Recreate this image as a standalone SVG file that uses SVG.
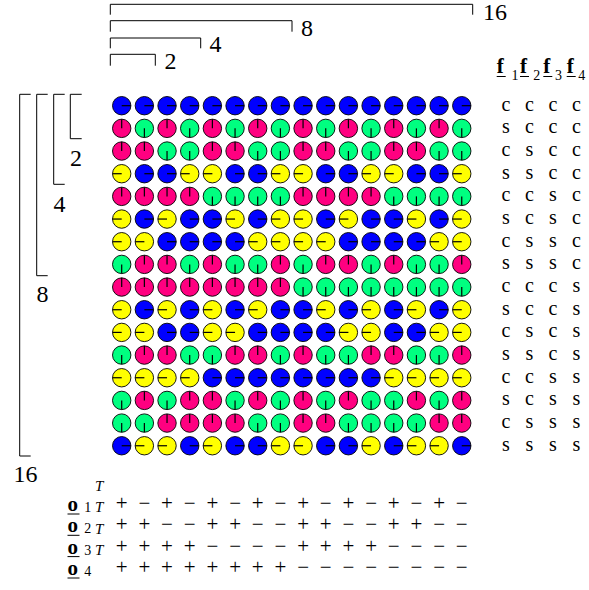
<svg xmlns="http://www.w3.org/2000/svg" xmlns:xlink="http://www.w3.org/1999/xlink" width="589" height="590" viewBox="0 0 589 590">
<style>
text{font-family:'Liberation Serif','Times New Roman',serif;fill:#000}
.br{fill:none;stroke:#000;stroke-width:1}
.num{font-size:24px}
.cs{font-size:20px;text-anchor:middle}
.sg{font-size:21px;text-anchor:middle}
.bf{font-size:21px;font-weight:bold}
.sub{font-size:14px}
.supT{font-size:15px;font-style:italic}
.ul{stroke:#000;stroke-width:1}
.c{stroke:#000;stroke-width:0.9}
.t{stroke:#000;stroke-width:1.2}
.B{fill:#0000ff}.M{fill:#ff0080}.G{fill:#00ff80}.Y{fill:#ffff00}
</style>
<defs>
<g id="B"><circle r="9.2" class="c B"/><line class="t" x1="0" y1="0" x2="9.2" y2="0"/></g>
<g id="M"><circle r="9.2" class="c M"/><line class="t" x1="0" y1="0" x2="0" y2="-9.2"/></g>
<g id="Y"><circle r="9.2" class="c Y"/><line class="t" x1="0" y1="0" x2="-9.2" y2="0"/></g>
<g id="G"><circle r="9.2" class="c G"/><line class="t" x1="0" y1="0" x2="0" y2="9.2"/></g>
</defs>
<g id="top-brackets">
<path class="br" d="M110.3,14.7V4.3H472.7V14.7"/>
<path class="br" d="M110.3,31.7V20.7H292V31.7"/>
<path class="br" d="M110.3,48.3V38H200.7V48.3"/>
<path class="br" d="M110.3,65.7V54.3H155.3V65.7"/>
<text class="num" x="483" y="20">16</text>
<text class="num" x="301" y="35.5">8</text>
<text class="num" x="209.5" y="52">4</text>
<text class="num" x="164.5" y="68.5">2</text>
</g>
<g id="left-brackets">
<path class="br" d="M30.7,94.3H19.7V456H30.7"/>
<path class="br" d="M47.7,94.3H36.7V275.7H47.7"/>
<path class="br" d="M64.7,94.3H53.7V184.3H64.7"/>
<path class="br" d="M81.7,94.3H70.3V138.7H81.7"/>
<text class="num" x="76" y="166" text-anchor="middle">2</text>
<text class="num" x="59.5" y="212" text-anchor="middle">4</text>
<text class="num" x="42.5" y="301.5" text-anchor="middle">8</text>
<text class="num" x="25.5" y="482" text-anchor="middle">16</text>
</g>
<g id="grid">
<g id="row0"><use xlink:href="#B" x="121.7" y="105.7"/><use xlink:href="#B" x="144.37" y="105.7"/><use xlink:href="#B" x="167.04" y="105.7"/><use xlink:href="#B" x="189.71" y="105.7"/><use xlink:href="#B" x="212.38" y="105.7"/><use xlink:href="#B" x="235.05" y="105.7"/><use xlink:href="#B" x="257.72" y="105.7"/><use xlink:href="#B" x="280.39" y="105.7"/><use xlink:href="#B" x="303.06" y="105.7"/><use xlink:href="#B" x="325.73" y="105.7"/><use xlink:href="#B" x="348.4" y="105.7"/><use xlink:href="#B" x="371.07" y="105.7"/><use xlink:href="#B" x="393.74" y="105.7"/><use xlink:href="#B" x="416.41" y="105.7"/><use xlink:href="#B" x="439.08" y="105.7"/><use xlink:href="#B" x="461.75" y="105.7"/></g>
<g id="row1"><use xlink:href="#M" x="121.7" y="128.37"/><use xlink:href="#G" x="144.37" y="128.37"/><use xlink:href="#M" x="167.04" y="128.37"/><use xlink:href="#G" x="189.71" y="128.37"/><use xlink:href="#M" x="212.38" y="128.37"/><use xlink:href="#G" x="235.05" y="128.37"/><use xlink:href="#M" x="257.72" y="128.37"/><use xlink:href="#G" x="280.39" y="128.37"/><use xlink:href="#M" x="303.06" y="128.37"/><use xlink:href="#G" x="325.73" y="128.37"/><use xlink:href="#M" x="348.4" y="128.37"/><use xlink:href="#G" x="371.07" y="128.37"/><use xlink:href="#M" x="393.74" y="128.37"/><use xlink:href="#G" x="416.41" y="128.37"/><use xlink:href="#M" x="439.08" y="128.37"/><use xlink:href="#G" x="461.75" y="128.37"/></g>
<g id="row2"><use xlink:href="#M" x="121.7" y="151.04"/><use xlink:href="#M" x="144.37" y="151.04"/><use xlink:href="#G" x="167.04" y="151.04"/><use xlink:href="#G" x="189.71" y="151.04"/><use xlink:href="#M" x="212.38" y="151.04"/><use xlink:href="#M" x="235.05" y="151.04"/><use xlink:href="#G" x="257.72" y="151.04"/><use xlink:href="#G" x="280.39" y="151.04"/><use xlink:href="#M" x="303.06" y="151.04"/><use xlink:href="#M" x="325.73" y="151.04"/><use xlink:href="#G" x="348.4" y="151.04"/><use xlink:href="#G" x="371.07" y="151.04"/><use xlink:href="#M" x="393.74" y="151.04"/><use xlink:href="#M" x="416.41" y="151.04"/><use xlink:href="#G" x="439.08" y="151.04"/><use xlink:href="#G" x="461.75" y="151.04"/></g>
<g id="row3"><use xlink:href="#Y" x="121.7" y="173.71"/><use xlink:href="#B" x="144.37" y="173.71"/><use xlink:href="#B" x="167.04" y="173.71"/><use xlink:href="#Y" x="189.71" y="173.71"/><use xlink:href="#Y" x="212.38" y="173.71"/><use xlink:href="#B" x="235.05" y="173.71"/><use xlink:href="#B" x="257.72" y="173.71"/><use xlink:href="#Y" x="280.39" y="173.71"/><use xlink:href="#Y" x="303.06" y="173.71"/><use xlink:href="#B" x="325.73" y="173.71"/><use xlink:href="#B" x="348.4" y="173.71"/><use xlink:href="#Y" x="371.07" y="173.71"/><use xlink:href="#Y" x="393.74" y="173.71"/><use xlink:href="#B" x="416.41" y="173.71"/><use xlink:href="#B" x="439.08" y="173.71"/><use xlink:href="#Y" x="461.75" y="173.71"/></g>
<g id="row4"><use xlink:href="#M" x="121.7" y="196.38"/><use xlink:href="#M" x="144.37" y="196.38"/><use xlink:href="#M" x="167.04" y="196.38"/><use xlink:href="#M" x="189.71" y="196.38"/><use xlink:href="#G" x="212.38" y="196.38"/><use xlink:href="#G" x="235.05" y="196.38"/><use xlink:href="#G" x="257.72" y="196.38"/><use xlink:href="#G" x="280.39" y="196.38"/><use xlink:href="#M" x="303.06" y="196.38"/><use xlink:href="#M" x="325.73" y="196.38"/><use xlink:href="#M" x="348.4" y="196.38"/><use xlink:href="#M" x="371.07" y="196.38"/><use xlink:href="#G" x="393.74" y="196.38"/><use xlink:href="#G" x="416.41" y="196.38"/><use xlink:href="#G" x="439.08" y="196.38"/><use xlink:href="#G" x="461.75" y="196.38"/></g>
<g id="row5"><use xlink:href="#Y" x="121.7" y="219.05"/><use xlink:href="#B" x="144.37" y="219.05"/><use xlink:href="#Y" x="167.04" y="219.05"/><use xlink:href="#B" x="189.71" y="219.05"/><use xlink:href="#B" x="212.38" y="219.05"/><use xlink:href="#Y" x="235.05" y="219.05"/><use xlink:href="#B" x="257.72" y="219.05"/><use xlink:href="#Y" x="280.39" y="219.05"/><use xlink:href="#Y" x="303.06" y="219.05"/><use xlink:href="#B" x="325.73" y="219.05"/><use xlink:href="#Y" x="348.4" y="219.05"/><use xlink:href="#B" x="371.07" y="219.05"/><use xlink:href="#B" x="393.74" y="219.05"/><use xlink:href="#Y" x="416.41" y="219.05"/><use xlink:href="#B" x="439.08" y="219.05"/><use xlink:href="#Y" x="461.75" y="219.05"/></g>
<g id="row6"><use xlink:href="#Y" x="121.7" y="241.72"/><use xlink:href="#Y" x="144.37" y="241.72"/><use xlink:href="#B" x="167.04" y="241.72"/><use xlink:href="#B" x="189.71" y="241.72"/><use xlink:href="#B" x="212.38" y="241.72"/><use xlink:href="#B" x="235.05" y="241.72"/><use xlink:href="#Y" x="257.72" y="241.72"/><use xlink:href="#Y" x="280.39" y="241.72"/><use xlink:href="#Y" x="303.06" y="241.72"/><use xlink:href="#Y" x="325.73" y="241.72"/><use xlink:href="#B" x="348.4" y="241.72"/><use xlink:href="#B" x="371.07" y="241.72"/><use xlink:href="#B" x="393.74" y="241.72"/><use xlink:href="#B" x="416.41" y="241.72"/><use xlink:href="#Y" x="439.08" y="241.72"/><use xlink:href="#Y" x="461.75" y="241.72"/></g>
<g id="row7"><use xlink:href="#G" x="121.7" y="264.39"/><use xlink:href="#M" x="144.37" y="264.39"/><use xlink:href="#M" x="167.04" y="264.39"/><use xlink:href="#G" x="189.71" y="264.39"/><use xlink:href="#M" x="212.38" y="264.39"/><use xlink:href="#G" x="235.05" y="264.39"/><use xlink:href="#G" x="257.72" y="264.39"/><use xlink:href="#M" x="280.39" y="264.39"/><use xlink:href="#G" x="303.06" y="264.39"/><use xlink:href="#M" x="325.73" y="264.39"/><use xlink:href="#M" x="348.4" y="264.39"/><use xlink:href="#G" x="371.07" y="264.39"/><use xlink:href="#M" x="393.74" y="264.39"/><use xlink:href="#G" x="416.41" y="264.39"/><use xlink:href="#G" x="439.08" y="264.39"/><use xlink:href="#M" x="461.75" y="264.39"/></g>
<g id="row8"><use xlink:href="#M" x="121.7" y="287.06"/><use xlink:href="#M" x="144.37" y="287.06"/><use xlink:href="#M" x="167.04" y="287.06"/><use xlink:href="#M" x="189.71" y="287.06"/><use xlink:href="#M" x="212.38" y="287.06"/><use xlink:href="#M" x="235.05" y="287.06"/><use xlink:href="#M" x="257.72" y="287.06"/><use xlink:href="#M" x="280.39" y="287.06"/><use xlink:href="#G" x="303.06" y="287.06"/><use xlink:href="#G" x="325.73" y="287.06"/><use xlink:href="#G" x="348.4" y="287.06"/><use xlink:href="#G" x="371.07" y="287.06"/><use xlink:href="#G" x="393.74" y="287.06"/><use xlink:href="#G" x="416.41" y="287.06"/><use xlink:href="#G" x="439.08" y="287.06"/><use xlink:href="#G" x="461.75" y="287.06"/></g>
<g id="row9"><use xlink:href="#Y" x="121.7" y="309.73"/><use xlink:href="#B" x="144.37" y="309.73"/><use xlink:href="#Y" x="167.04" y="309.73"/><use xlink:href="#B" x="189.71" y="309.73"/><use xlink:href="#Y" x="212.38" y="309.73"/><use xlink:href="#B" x="235.05" y="309.73"/><use xlink:href="#Y" x="257.72" y="309.73"/><use xlink:href="#B" x="280.39" y="309.73"/><use xlink:href="#B" x="303.06" y="309.73"/><use xlink:href="#Y" x="325.73" y="309.73"/><use xlink:href="#B" x="348.4" y="309.73"/><use xlink:href="#Y" x="371.07" y="309.73"/><use xlink:href="#B" x="393.74" y="309.73"/><use xlink:href="#Y" x="416.41" y="309.73"/><use xlink:href="#B" x="439.08" y="309.73"/><use xlink:href="#Y" x="461.75" y="309.73"/></g>
<g id="row10"><use xlink:href="#Y" x="121.7" y="332.4"/><use xlink:href="#Y" x="144.37" y="332.4"/><use xlink:href="#B" x="167.04" y="332.4"/><use xlink:href="#B" x="189.71" y="332.4"/><use xlink:href="#Y" x="212.38" y="332.4"/><use xlink:href="#Y" x="235.05" y="332.4"/><use xlink:href="#B" x="257.72" y="332.4"/><use xlink:href="#B" x="280.39" y="332.4"/><use xlink:href="#B" x="303.06" y="332.4"/><use xlink:href="#B" x="325.73" y="332.4"/><use xlink:href="#Y" x="348.4" y="332.4"/><use xlink:href="#Y" x="371.07" y="332.4"/><use xlink:href="#B" x="393.74" y="332.4"/><use xlink:href="#B" x="416.41" y="332.4"/><use xlink:href="#Y" x="439.08" y="332.4"/><use xlink:href="#Y" x="461.75" y="332.4"/></g>
<g id="row11"><use xlink:href="#G" x="121.7" y="355.07"/><use xlink:href="#M" x="144.37" y="355.07"/><use xlink:href="#M" x="167.04" y="355.07"/><use xlink:href="#G" x="189.71" y="355.07"/><use xlink:href="#G" x="212.38" y="355.07"/><use xlink:href="#M" x="235.05" y="355.07"/><use xlink:href="#M" x="257.72" y="355.07"/><use xlink:href="#G" x="280.39" y="355.07"/><use xlink:href="#M" x="303.06" y="355.07"/><use xlink:href="#G" x="325.73" y="355.07"/><use xlink:href="#G" x="348.4" y="355.07"/><use xlink:href="#M" x="371.07" y="355.07"/><use xlink:href="#M" x="393.74" y="355.07"/><use xlink:href="#G" x="416.41" y="355.07"/><use xlink:href="#G" x="439.08" y="355.07"/><use xlink:href="#M" x="461.75" y="355.07"/></g>
<g id="row12"><use xlink:href="#Y" x="121.7" y="377.74"/><use xlink:href="#Y" x="144.37" y="377.74"/><use xlink:href="#Y" x="167.04" y="377.74"/><use xlink:href="#Y" x="189.71" y="377.74"/><use xlink:href="#B" x="212.38" y="377.74"/><use xlink:href="#B" x="235.05" y="377.74"/><use xlink:href="#B" x="257.72" y="377.74"/><use xlink:href="#B" x="280.39" y="377.74"/><use xlink:href="#B" x="303.06" y="377.74"/><use xlink:href="#B" x="325.73" y="377.74"/><use xlink:href="#B" x="348.4" y="377.74"/><use xlink:href="#B" x="371.07" y="377.74"/><use xlink:href="#Y" x="393.74" y="377.74"/><use xlink:href="#Y" x="416.41" y="377.74"/><use xlink:href="#Y" x="439.08" y="377.74"/><use xlink:href="#Y" x="461.75" y="377.74"/></g>
<g id="row13"><use xlink:href="#G" x="121.7" y="400.41"/><use xlink:href="#M" x="144.37" y="400.41"/><use xlink:href="#G" x="167.04" y="400.41"/><use xlink:href="#M" x="189.71" y="400.41"/><use xlink:href="#M" x="212.38" y="400.41"/><use xlink:href="#G" x="235.05" y="400.41"/><use xlink:href="#M" x="257.72" y="400.41"/><use xlink:href="#G" x="280.39" y="400.41"/><use xlink:href="#M" x="303.06" y="400.41"/><use xlink:href="#G" x="325.73" y="400.41"/><use xlink:href="#M" x="348.4" y="400.41"/><use xlink:href="#G" x="371.07" y="400.41"/><use xlink:href="#G" x="393.74" y="400.41"/><use xlink:href="#M" x="416.41" y="400.41"/><use xlink:href="#G" x="439.08" y="400.41"/><use xlink:href="#M" x="461.75" y="400.41"/></g>
<g id="row14"><use xlink:href="#G" x="121.7" y="423.08"/><use xlink:href="#G" x="144.37" y="423.08"/><use xlink:href="#M" x="167.04" y="423.08"/><use xlink:href="#M" x="189.71" y="423.08"/><use xlink:href="#M" x="212.38" y="423.08"/><use xlink:href="#M" x="235.05" y="423.08"/><use xlink:href="#G" x="257.72" y="423.08"/><use xlink:href="#G" x="280.39" y="423.08"/><use xlink:href="#M" x="303.06" y="423.08"/><use xlink:href="#M" x="325.73" y="423.08"/><use xlink:href="#G" x="348.4" y="423.08"/><use xlink:href="#G" x="371.07" y="423.08"/><use xlink:href="#G" x="393.74" y="423.08"/><use xlink:href="#G" x="416.41" y="423.08"/><use xlink:href="#M" x="439.08" y="423.08"/><use xlink:href="#M" x="461.75" y="423.08"/></g>
<g id="row15"><use xlink:href="#B" x="121.7" y="445.75"/><use xlink:href="#Y" x="144.37" y="445.75"/><use xlink:href="#Y" x="167.04" y="445.75"/><use xlink:href="#B" x="189.71" y="445.75"/><use xlink:href="#Y" x="212.38" y="445.75"/><use xlink:href="#B" x="235.05" y="445.75"/><use xlink:href="#B" x="257.72" y="445.75"/><use xlink:href="#Y" x="280.39" y="445.75"/><use xlink:href="#Y" x="303.06" y="445.75"/><use xlink:href="#B" x="325.73" y="445.75"/><use xlink:href="#B" x="348.4" y="445.75"/><use xlink:href="#Y" x="371.07" y="445.75"/><use xlink:href="#B" x="393.74" y="445.75"/><use xlink:href="#Y" x="416.41" y="445.75"/><use xlink:href="#Y" x="439.08" y="445.75"/><use xlink:href="#B" x="461.75" y="445.75"/></g>
</g>
<g id="f-table">
<text class="bf" x="496.7" y="73">f</text><text class="sub" x="511.5" y="79.5">1</text>
<text class="bf" x="520" y="73">f</text><text class="sub" x="533.3" y="79.5">2</text>
<text class="bf" x="543.3" y="73">f</text><text class="sub" x="555" y="79.5">3</text>
<text class="bf" x="566.7" y="73">f</text><text class="sub" x="578.3" y="79.5">4</text>
<line class="ul" x1="496.7" y1="76.5" x2="505.7" y2="76.5"/>
<line class="ul" x1="520" y1="76.5" x2="529" y2="76.5"/>
<line class="ul" x1="543.3" y1="76.5" x2="552.3" y2="76.5"/>
<line class="ul" x1="566.7" y1="76.5" x2="575.7" y2="76.5"/>
<text class="cs" x="506 529.5 553 576.5" y="110.7">cccc</text>
<text class="cs" x="506 529.5 553 576.5" y="133.37">sccc</text>
<text class="cs" x="506 529.5 553 576.5" y="156.04">cscc</text>
<text class="cs" x="506 529.5 553 576.5" y="178.71">sscc</text>
<text class="cs" x="506 529.5 553 576.5" y="201.38">ccsc</text>
<text class="cs" x="506 529.5 553 576.5" y="224.05">scsc</text>
<text class="cs" x="506 529.5 553 576.5" y="246.72">cssc</text>
<text class="cs" x="506 529.5 553 576.5" y="269.39">sssc</text>
<text class="cs" x="506 529.5 553 576.5" y="292.06">cccs</text>
<text class="cs" x="506 529.5 553 576.5" y="314.73">sccs</text>
<text class="cs" x="506 529.5 553 576.5" y="337.4">cscs</text>
<text class="cs" x="506 529.5 553 576.5" y="360.07">sscs</text>
<text class="cs" x="506 529.5 553 576.5" y="382.74">ccss</text>
<text class="cs" x="506 529.5 553 576.5" y="405.41">scss</text>
<text class="cs" x="506 529.5 553 576.5" y="428.08">csss</text>
<text class="cs" x="506 529.5 553 576.5" y="450.75">ssss</text>
</g>
<g id="o-table">
<text class="bf" x="67.5" y="511">o</text><text class="sub" x="84.3" y="512">1</text><text class="supT" x="95" y="491">T</text>
<text class="bf" x="67.5" y="532.3">o</text><text class="sub" x="84.3" y="533.3">2</text><text class="supT" x="95" y="512.3">T</text>
<text class="bf" x="67.5" y="553.6">o</text><text class="sub" x="84.3" y="554.6">3</text><text class="supT" x="95" y="533.6">T</text>
<text class="bf" x="67.5" y="575">o</text><text class="sub" x="84.3" y="576">4</text><text class="supT" x="95" y="555">T</text>
<line class="ul" x1="67.5" y1="514" x2="79.5" y2="514"/>
<line class="ul" x1="67.5" y1="535.3" x2="79.5" y2="535.3"/>
<line class="ul" x1="67.5" y1="556.6" x2="79.5" y2="556.6"/>
<line class="ul" x1="67.5" y1="578" x2="79.5" y2="578"/>
<text class="sg" x="121.7 144.37 167.04 189.71 212.38 235.05 257.72 280.39 303.06 325.73 348.4 371.07 393.74 416.41 439.08 461.75" y="510">+−+−+−+−+−+−+−+−</text>
<text class="sg" x="121.7 144.37 167.04 189.71 212.38 235.05 257.72 280.39 303.06 325.73 348.4 371.07 393.74 416.41 439.08 461.75" y="531.3">++−−++−−++−−++−−</text>
<text class="sg" x="121.7 144.37 167.04 189.71 212.38 235.05 257.72 280.39 303.06 325.73 348.4 371.07 393.74 416.41 439.08 461.75" y="552.6">++++−−−−++++−−−−</text>
<text class="sg" x="121.7 144.37 167.04 189.71 212.38 235.05 257.72 280.39 303.06 325.73 348.4 371.07 393.74 416.41 439.08 461.75" y="574">++++++++−−−−−−−−</text>
</g>
</svg>
